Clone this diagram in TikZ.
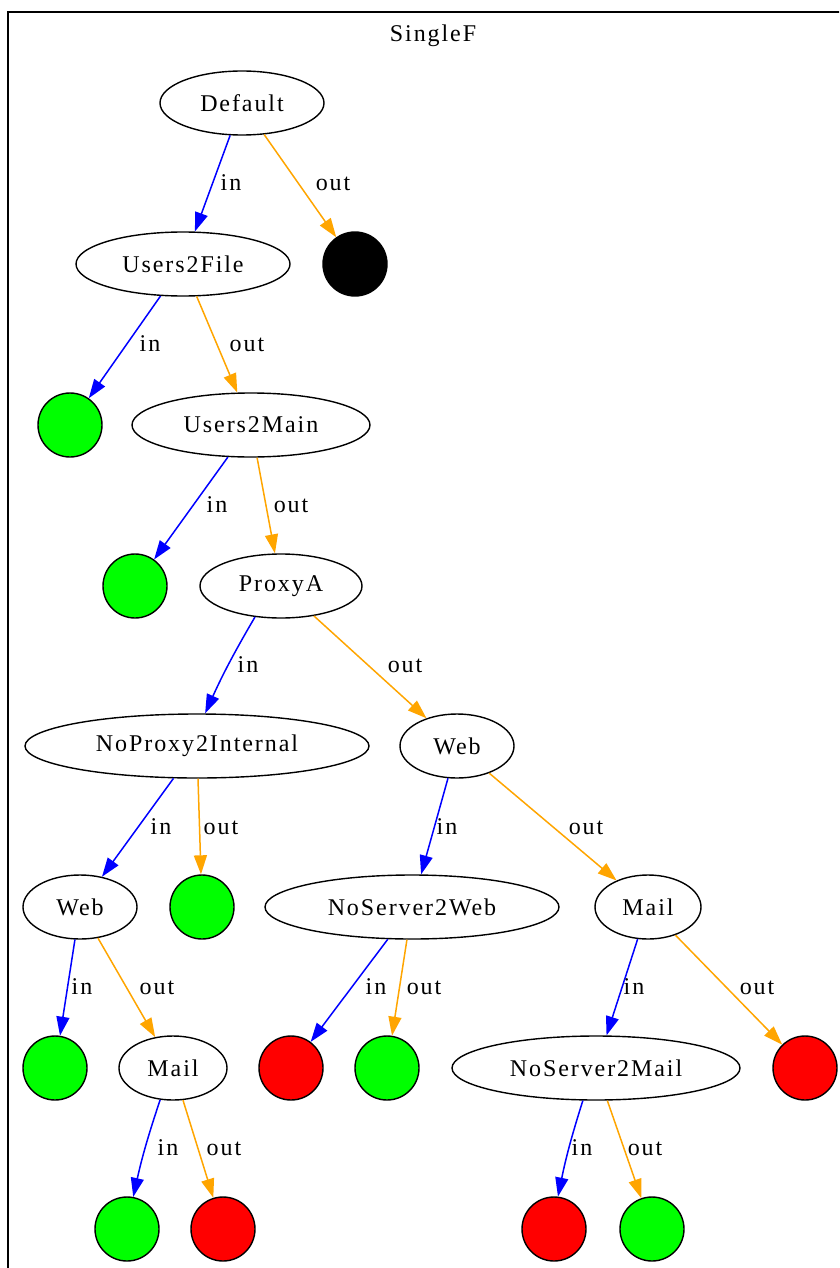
\documentclass[tikz,border=0pt]{standalone}
\usepackage{fontspec}
\setmainfont{Liberation Serif}[LetterSpace=8]
\usetikzlibrary{shapes.geometric,arrows.meta}
\definecolor{edgeorange}{RGB}{255,165,0}
\definecolor{okgreen}{RGB}{0,255,0}
\definecolor{badred}{RGB}{255,0,0}
\begin{document}
\begin{tikzpicture}[x=1pt,y=-1pt,
  txt/.style={font=\fontsize{24}{28}\selectfont,inner sep=0pt},
  state/.style={txt,ellipse,draw,line width=1.4pt,minimum height=64pt},
  dot/.style={circle,draw,line width=1.4pt,minimum size=64pt,inner sep=0pt},
  okdot/.style={dot,fill=okgreen},
  baddot/.style={dot,fill=badred},
  enddot/.style={dot,fill=black},
  lbl/.style={txt,text height=0.68em,text depth=0pt},
  inedge/.style={draw=blue,line width=1.5pt,-{Triangle[length=19pt,width=13pt]}},
  outedge/.style={draw=edgeorange,line width=1.5pt,-{Triangle[length=19pt,width=13pt]}}
]
\useasboundingbox (0,0) rectangle (839,1268);
\clip (0,0) rectangle (839,1268);

% cluster frame and title
\draw[line width=1.4pt] (8,1290) -- (8,12) -- (870,12);
\node[txt] (title) at (433,36) {SingleF};

% rule nodes
\node[state,minimum width=164pt] (D)   at (242,103)  {Default};
\node[state,minimum width=214pt] (U2F) at (183,264)  {Users2File};
\node[state,minimum width=238pt] (U2M) at (251,425)  {Users2Main};
\node[state,minimum width=162pt] (PA)  at (281,586)  {ProxyA};
\node[state,minimum width=344pt] (NP)  at (197,746)  {NoProxy2Internal};
\node[state,minimum width=114pt] (W1)  at (457,746)  {Web};
\node[state,minimum width=114pt] (W2)  at (80,907)   {Web};
\node[state,minimum width=294pt] (NSW) at (412,907)  {NoServer2Web};
\node[state,minimum width=106pt] (M1)  at (648,907)  {Mail};
\node[state,minimum width=108pt] (M2)  at (173,1068) {Mail};
\node[state,minimum width=288pt] (NSM) at (596,1068) {NoServer2Mail};

% terminal nodes
\node[enddot] (blk) at (355,264) {};
\node[okdot]  (g1)  at (70,425)  {};
\node[okdot]  (g2)  at (135,586) {};
\node[okdot]  (g3)  at (202,907) {};
\node[okdot]  (g4)  at (55,1068) {};
\node[baddot] (r1)  at (291,1068) {};
\node[okdot]  (g5)  at (387,1068) {};
\node[baddot] (r2)  at (805,1068) {};
\node[okdot]  (g6)  at (127,1229) {};
\node[baddot] (r3)  at (223,1229) {};
\node[baddot] (r4)  at (554,1229) {};
\node[okdot]  (g7)  at (652,1229) {};

% edges
\draw[inedge]  (D) -- (U2F);
\draw[outedge] (D) -- (blk);
\draw[inedge]  (U2F) -- (g1);
\draw[outedge] (U2F) -- (U2M);
\draw[inedge]  (U2M) -- (g2);
\draw[outedge] (U2M) -- (PA);
\draw[inedge]  (PA.230) to[bend right=3] (NP.76);
\draw[outedge] (PA) -- (W1);
\draw[inedge]  (NP) -- (W2);
\draw[outedge] (NP) -- (g3);
\draw[inedge]  (W1) -- (NSW);
\draw[outedge] (W1) -- (M1);
\draw[inedge]  (W2) -- (g4);
\draw[outedge] (W2) -- (M2);
\draw[inedge]  (NSW) -- (r1);
\draw[outedge] (NSW) -- (g5);
\draw[inedge]  (M1) -- (NSM);
\draw[outedge] (M1) -- (r2);
\draw[inedge]  (M2.248) to[bend right=3] (g6.79);
\draw[outedge] (M2) -- (r3);
\draw[inedge]  (NSM.248) to[bend right=3] (r4.83);
\draw[outedge] (NSM) -- (g7);

% edge labels
\node[lbl] (l1)  at (231,187)  {in};
\node[lbl] (l2)  at (333,187)  {out};
\node[lbl] (l3)  at (150,348)  {in};
\node[lbl] (l4)  at (247,348)  {out};
\node[lbl] (l5)  at (217,509)  {in};
\node[lbl] (l6)  at (291,509)  {out};
\node[lbl] (l7)  at (248,669)  {in};
\node[lbl] (l8)  at (405,669)  {out};
\node[lbl] (l9)  at (161,831)  {in};
\node[lbl] (l10) at (221,831)  {out};
\node[lbl] (l11) at (447,831)  {in};
\node[lbl] (l12) at (586,831)  {out};
\node[lbl] (l13) at (82,991)   {in};
\node[lbl] (l14) at (157,991)  {out};
\node[lbl] (l15) at (376,991)  {in};
\node[lbl] (l16) at (424,991)  {out};
\node[lbl] (l17) at (634,991)  {in};
\node[lbl] (l18) at (757,991)  {out};
\node[lbl] (l19) at (168,1152) {in};
\node[lbl] (l20) at (224,1152) {out};
\node[lbl] (l21) at (582,1152) {in};
\node[lbl] (l22) at (645,1152) {out};
\end{tikzpicture}
\end{document}
